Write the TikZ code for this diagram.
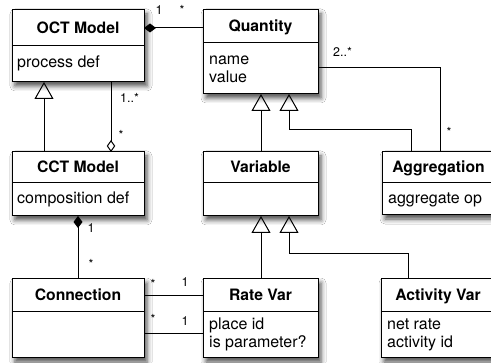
\documentclass[tikz,border=0pt]{standalone}
\usepackage{fontspec}
\setmainfont{TeX Gyre Heros}
\usetikzlibrary{arrows.meta,fit,shadows.blur,calc}
\tikzset{
  umlbox/.style={draw, line width=1pt, fill=white, inner sep=0pt, outer sep=0pt,
    blur shadow={shadow xshift=3pt, shadow yshift=-4pt, shadow blur radius=5pt, shadow opacity=70}},
  ctitle/.style={font=\fontsize{15.7}{18}\selectfont\bfseries, inner sep=0pt, anchor=base},
  cattr/.style={font=\fontsize{16}{19}\selectfont, inner sep=0pt, anchor=base west},
  mult/.style={font=\fontsize{12.5}{14}\selectfont, inner sep=0pt, anchor=base},
  conn/.style={line width=1pt},
  gen/.style={conn, -{Triangle[open, length=17pt, width=19pt, line width=1pt]}},
  comp/.style={conn, -{Diamond[length=12pt, width=9pt]}},
  aggr/.style={conn, -{Diamond[open, length=12pt, width=8.5pt, line width=1pt]}},
}
\newcommand\umlclass[7]{%
  \node[umlbox, fit={(#2,#3)(#4,#5)}] (#1) {};
  \draw[line width=1pt] (#2,#6) -- (#4,#6);
  \node[ctitle] (#1-title) at ({(#2+#4)/2},{(#3+#6)/2+5.5}) {#7};
}
\begin{document}
\begin{tikzpicture}[x=1pt, y=-1pt]
\useasboundingbox (0,0) rectangle (491,363);
\fill[white] (0,0) rectangle (491,363);
\clip (0,0) rectangle (491,363);

% classes
\umlclass{oct}{12}{10}{144}{82}{46}{OCT Model}
\umlclass{qty}{203}{10}{318}{94}{43}{Quantity}
\umlclass{cct}{12}{152}{144}{216}{183}{CCT Model}
\umlclass{var}{203}{152}{318}{216}{183}{Variable}
\umlclass{agg}{382}{152}{495}{215}{183}{Aggregation}
\umlclass{con}{12}{279}{144}{358}{312}{Connection}
\umlclass{rate}{203}{279}{318}{358}{312}{Rate Var}
\umlclass{act}{381}{279}{495}{358}{312}{Activity Var}

% attributes
\node[cattr] (oct-a1) at (17,68) {process def};
\node[cattr] (qty-a1) at (209,64.5) {name};
\node[cattr] (qty-a2) at (209,83) {value};
\node[cattr] (cct-a1) at (17,204) {composition def};
\node[cattr] (agg-a1) at (388,204) {aggregate op};
\node[cattr] (rate-a1) at (209,330) {place id};
\node[cattr] (rate-a2) at (209,348) {is parameter?};
\node[cattr] (act-a1) at (387,330) {net rate};
\node[cattr] (act-a2) at (387,348) {activity id};

% connectors
\draw[comp] (qty.west |- 0,28) -- (oct.east |- 0,28);
\draw[aggr] (oct.south -| 111,0) -- (cct.north -| 111,0);
\draw[gen] (cct.north -| 44,0) -- (oct.south -| 44,0);
\draw[gen] (var.north -| 261,0) -- (qty.south -| 261,0);
\draw[gen] (agg.north -| 411,0) -- (411,130) -- (289,130) -- (qty.south -| 289,0);
\draw[conn] (qty.east |- 0,68) -- (440,68) -- (agg.north -| 440,0);
\draw[gen] (rate.north -| 261,0) -- (var.south -| 261,0);
\draw[gen] (act.north -| 408,0) -- (408,254) -- (289,254) -- (var.south -| 289,0);
\draw[comp] (con.north) -- (cct.south);
\draw[conn] (con.east |- 0,296) -- (rate.west |- 0,296);
\draw[conn] (con.east |- 0,334) -- (rate.west |- 0,334);

% multiplicities
\node[mult] (m1) at (159,15) {1};
\node[mult] (m2) at (182,15) {*};
\node[mult, anchor=base west] (m3) at (120,102.5) {1..*};
\node[mult] (m4) at (121,140) {*};
\node[mult, anchor=base west] (m5) at (333,57) {2..*};
\node[mult] (m6) at (449,137) {*};
\node[mult] (m7) at (91,233) {1};
\node[mult] (m8) at (91,268.5) {*};
\node[mult] (m9) at (153,288.5) {*};
\node[mult] (m10) at (185,287) {1};
\node[mult] (m11) at (153,323.5) {*};
\node[mult] (m12) at (185,325.5) {1};
\end{tikzpicture}
\end{document}
